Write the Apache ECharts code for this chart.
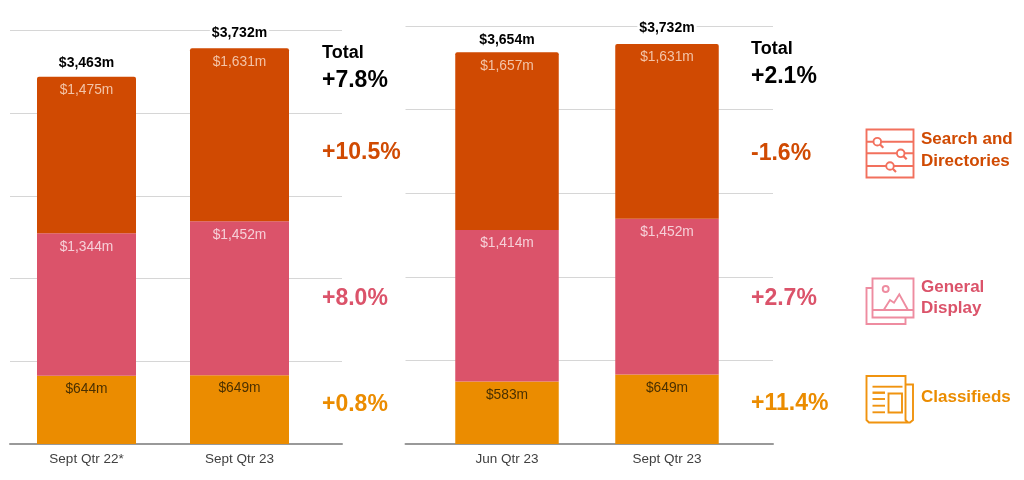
<!DOCTYPE html>
<html><head><meta charset="utf-8">
<style>html,body{margin:0;padding:0;background:#fff}#c{width:1024px;height:480px}</style>
<script src="https://cdn.jsdelivr.net/npm/echarts@6/dist/echarts.min.js"></script>
</head><body><div id="c"></div>
<script>
const categoriesA = ['Sept Qtr 22*', 'Sept Qtr 23'];
const categoriesB = ['Jun Qtr 23', 'Sept Qtr 23'];
const classifiedsA = [644, 649];
const displayA = [1344, 1452];
const searchA = [1475, 1631];
const totalsA = [3463, 3732];
const classifiedsB = [583, 649];
const displayB = [1414, 1452];
const searchB = [1657, 1631];
const totalsB = [3654, 3732];
const changesA = ['+7.8%', '+10.5%', '+8.0%', '+0.8%'];
const changesB = ['+2.1%', '-1.6%', '+2.7%', '+11.4%'];
const segmentNames = ['Classifieds', 'General Display', 'Search and Directories'];

const RED = '#d04a02', PINK = '#db536a', AMBER = '#eb8c00';
const FONT = '"Liberation Sans", Arial, sans-serif';
const money = v => '$' + v.toLocaleString('en-US') + 'm';

function panel(idx, cl, di, se, tot, barW, totalNudge) {
  const segs = [
    [segmentNames[0], cl, AMBER, '#4a3000'],
    [segmentNames[1], di, PINK, '#f6d0d8'],
    [segmentNames[2], se, RED, '#f3c4a8']
  ];
  const list = segs.map((s, k) => ({
    type: 'bar', name: s[0] + ' ' + idx, stack: 'p' + idx,
    xAxisIndex: idx, yAxisIndex: idx, barWidth: barW,
    data: s[1],
    itemStyle: {color: s[2], borderRadius: k === 2 ? [2, 2, 0, 0] : 0},
    label: {show: true, position: 'insideTop', distance: 6.5, color: s[3], fontSize: 13.8,
      fontFamily: FONT, formatter: p => money(p.value)},
    emphasis: {disabled: true}, animation: false
  }));
  list.push({
    type: 'line', name: 'Total ' + idx, xAxisIndex: idx, yAxisIndex: idx,
    data: tot.map((v, i) => ({value: v, label: {offset: [0, totalNudge[i]]}})),
    symbol: 'circle', symbolSize: 1, silent: true, animation: false,
    itemStyle: {color: 'rgba(0,0,0,0)'}, lineStyle: {color: 'rgba(0,0,0,0)'}, z: 5,
    label: {show: true, position: 'top', distance: 8, color: '#000', fontSize: 14, fontWeight: 'bold',
      fontFamily: FONT, backgroundColor: '#fff', padding: [1, 2],
      formatter: p => money(p.value)}
  });
  return list;
}

// bar panels: one category band per quarter
const catAxis = (i, cats) => ({
  type: 'category', gridIndex: i, data: cats, axisTick: {show: false},
  axisLine: {show: false}, splitLine: {show: false},
  axisLabel: {color: '#404040', fontSize: 13.5, fontFamily: FONT, margin: 8, interval: 0}
});
const valAxis = (i, lines) => ({
  type: 'value', gridIndex: i, min: 0, max: 3900, interval: 780,
  axisLabel: {show: false}, axisTick: {show: false}, axisLine: {show: false},
  splitLine: {show: lines, lineStyle: {color: '#d6d6d6', width: 1}}
});
// wider backdrop panels: gridlines and baseline only
const backAxis = i => ({
  type: 'value', gridIndex: i, min: 0, max: 1, splitLine: {show: false},
  axisTick: {show: false}, axisLabel: {show: false},
  axisLine: {show: true, onZero: false, lineStyle: {color: '#999', width: 2}}
});

const txt = (x, y, t, size, color, weight) => ({
  type: 'text', x, y, silent: true,
  style: {text: t, fill: color, font: (weight || 'normal') + ' ' + size + 'px ' + FONT,
    textAlign: 'left', textVerticalAlign: 'middle'}
});
const ICON_R = '#f2705d', ICON_P = '#ee8ca0', ICON_A = '#f0930f';
const LW = 1.9;
const st = c => ({fill: 'none', stroke: c, lineWidth: LW});
const rect = (x, y, w, h, c, fill) => ({type: 'rect', shape: {x, y, width: w, height: h}, silent: true,
  style: {fill: fill || 'none', stroke: c, lineWidth: LW}});
const line = (x1, y1, x2, y2, c, w) => ({type: 'line', shape: {x1, y1, x2, y2}, silent: true,
  style: {stroke: c, lineWidth: w || LW}});
const circ = (cx, cy, r, c) => ({type: 'circle', shape: {cx, cy, r}, silent: true,
  style: {fill: '#fff', stroke: c, lineWidth: LW}, z: 3});
const mag = (cx, cy) => [circ(cx, cy, 3.8, ICON_R), line(cx + 2.8, cy + 2.8, cx + 6, cy + 6, ICON_R, 2.2)];

const graphics = [
  txt(322, 53, 'Total', 18, '#000', 'bold'),
  txt(322, 81, changesA[0], 23, '#000', 'bold'),
  txt(322, 153, changesA[1], 23, RED, 'bold'),
  txt(322, 299, changesA[2], 23, PINK, 'bold'),
  txt(322, 405, changesA[3], 23, AMBER, 'bold'),
  txt(751, 49, 'Total', 18, '#000', 'bold'),
  txt(751, 77, changesB[0], 23, '#000', 'bold'),
  txt(751, 154, changesB[1], 23, RED, 'bold'),
  txt(751, 299, changesB[2], 23, PINK, 'bold'),
  txt(751, 404, changesB[3], 23, AMBER, 'bold'),
  txt(921, 139, 'Search and', 17, RED, 'bold'),
  txt(921, 161, 'Directories', 17, RED, 'bold'),
  txt(921, 287, 'General', 17, PINK, 'bold'),
  txt(921, 308, 'Display', 17, PINK, 'bold'),
  txt(921, 397, 'Classifieds', 17, AMBER, 'bold'),
  // Search icon
  rect(866.5, 129.5, 47, 48, ICON_R),
  line(866.5, 141.7, 913.5, 141.7, ICON_R), line(866.5, 153.3, 913.5, 153.3, ICON_R), line(866.5, 166, 913.5, 166, ICON_R),
  ...mag(877.3, 141.7), ...mag(900.7, 153.3), ...mag(890, 166),
  // Display icon
  rect(866.5, 288, 39, 36, ICON_P),
  rect(872.5, 278.5, 41, 39, ICON_P, '#fff'),
  line(872.5, 310, 913.5, 310, ICON_P),
  circ(885.7, 289, 3, ICON_P),
  {type: 'polyline', silent: true, shape: {points: [[884, 309.5], [890, 300], [894, 302.7], [899.3, 294.3], [907.7, 309.5]]}, style: st(ICON_P)},
  // Classifieds icon
  {type: 'polyline', silent: true, shape: {points: [[905.5, 384.5], [913, 384.5], [913, 420], [910, 422.5], [908, 422.5], [905.5, 420], [905.5, 376], [866.5, 376], [866.5, 420], [869, 422.5], [908, 422.5]]}, style: st(ICON_A)},
  line(872.5, 386.7, 902.5, 386.7, ICON_A),
  line(872.5, 392.7, 885, 392.7, ICON_A, 2.4), line(872.5, 399, 885, 399, ICON_A), line(872.5, 405.7, 885, 405.7, ICON_A), line(872.5, 412.3, 885, 412.3, ICON_A),
  rect(888.5, 393.5, 13.5, 19, ICON_A)
];

const chart = echarts.init(document.getElementById('c'), null, {renderer: 'canvas'});
chart.setOption({
  animation: false,
  backgroundColor: '#fff',
  grid: [
    {left: 10, width: 306, top: 30.5, height: 413.5},
    {left: 427, width: 320, top: 26, height: 418},
    {left: 10, width: 332, top: 30.5, height: 413.5},
    {left: 405.5, width: 367.5, top: 26, height: 418}
  ],
  xAxis: [catAxis(0, categoriesA), catAxis(1, categoriesB), backAxis(2), backAxis(3)],
  yAxis: [valAxis(0, false), valAxis(1, false), valAxis(2, true), valAxis(3, true)],
  series: [
    ...panel(0, classifiedsA, displayA, searchA, totalsA, 99, [3, 1]),
    ...panel(1, classifiedsB, displayB, searchB, totalsB, 103.5, [4, 1])
  ],
  graphic: {elements: graphics}
});
</script></body></html>
